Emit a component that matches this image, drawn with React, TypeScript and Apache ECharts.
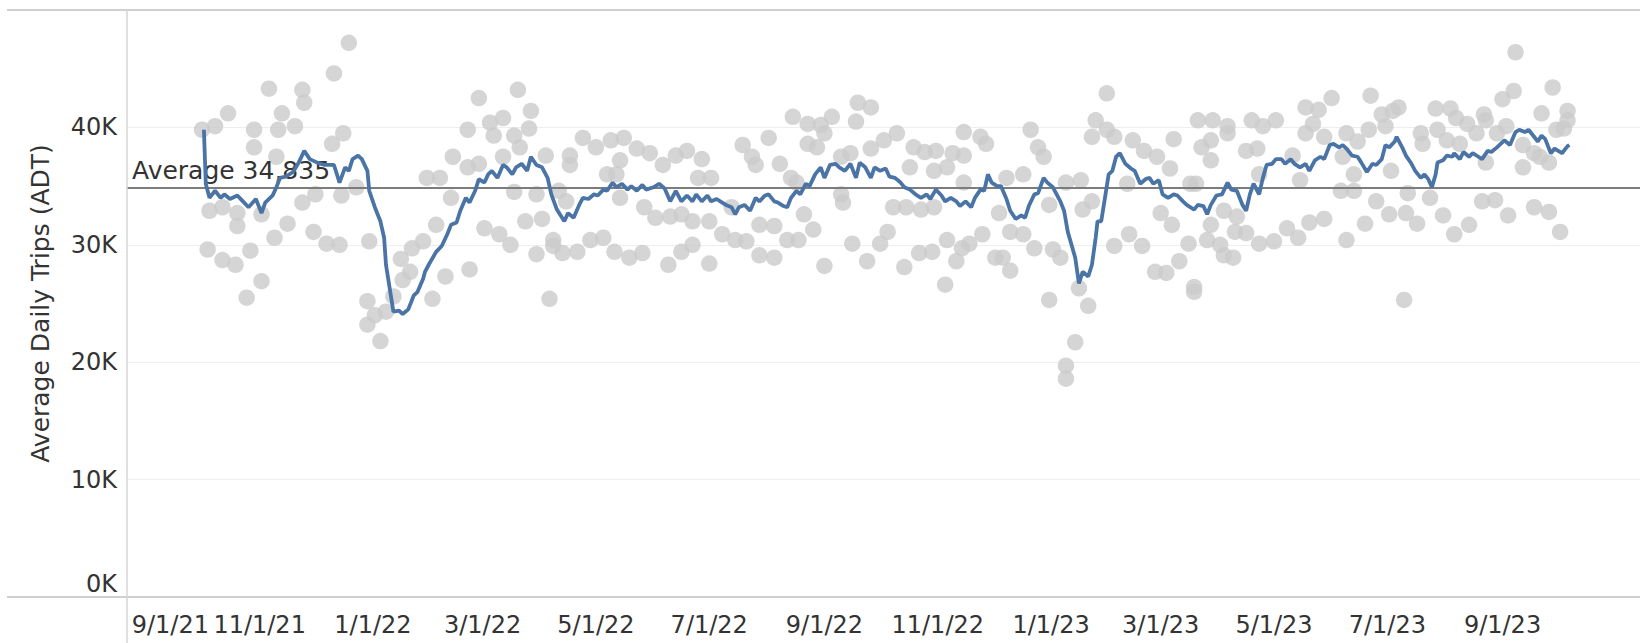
import React, { useEffect, useRef } from "react";
import * as echarts from "echarts";

// ---------- data ----------
// All points are [days since 2021-10-01, average daily trips]
const BASE_DATE = "2021-10-01";
const DAY_MS = 86400000;

const xTickDates = [
  "2021-09-01", "2021-11-01", "2022-01-01", "2022-03-01", "2022-05-01", "2022-07-01",
  "2022-09-01", "2022-11-01", "2023-01-01", "2023-03-01", "2023-05-01", "2023-07-01", "2023-09-01",
];
const yMax = 50000;
const yStep = 10000;
const averageValue = 34835;

// daily ADT (grey dots)
const daily2021: [number, number][] = [
  [0, 39800], [3, 29600], [4, 32900], [7, 40100], [11, 33200], [11, 28700], [14, 41200], [18, 28300],
  [19, 32700], [19, 31600], [24, 25500], [26, 29500], [28, 39800], [28, 38300], [32, 32600], [32, 26900],
  [36, 43300], [39, 30600], [40, 37500], [41, 39800], [43, 41200], [46, 31800], [50, 40100], [54, 43200],
  [54, 33600], [55, 42100], [60, 31100], [61, 34300], [67, 30100], [70, 38600], [71, 44600], [74, 30000],
  [75, 34200], [76, 39500], [79, 47200], [83, 34900], [89, 25200], [89, 23200], [90, 30300], [93, 24000],
  [96, 21800], [99, 24300],
];
const daily2022a: [number, number][] = [
  [103, 25600], [107, 28800], [108, 27000], [112, 27700], [113, 29700], [119, 30300], [121, 35700],
  [124, 25400], [126, 31700], [128, 35700], [131, 27300], [134, 34000], [135, 37500], [143, 39800],
  [143, 36600], [144, 27900], [149, 42500], [149, 36900], [152, 31400], [155, 40400], [157, 39300],
  [160, 30900], [162, 40800], [162, 37500], [166, 30000], [168, 39300], [168, 34500], [170, 43200],
  [171, 38300], [174, 32000], [176, 39900], [177, 41400], [180, 34300], [180, 29200], [183, 32200],
  [185, 37600], [187, 25400], [189, 30400], [189, 29900], [192, 34600], [194, 29300], [196, 33700],
  [198, 37600], [198, 36800], [202, 29400], [205, 39100], [209, 30400],
];
const daily2022b: [number, number][] = [
  [212, 38300], [216, 30600], [218, 36000], [220, 38900], [222, 29400], [223, 36000], [225, 37200],
  [225, 34000], [227, 39100], [230, 28900], [234, 38200], [237, 29300], [238, 33200], [241, 37800],
  [244, 32300], [248, 36800], [251, 28300], [252, 32400], [255, 37600], [258, 32600], [258, 29400],
  [261, 38000], [264, 32000], [264, 30000], [267, 35700], [269, 37300], [273, 32000], [273, 28400],
  [274, 35700], [280, 30900], [285, 33200], [287, 30400], [291, 38500], [293, 30300], [296, 37500],
  [298, 36800], [300, 31700], [300, 29100], [305, 39100], [308, 31600], [308, 28900], [311, 36900],
  [315, 30400], [317, 35700], [318, 40900], [320, 35300], [321, 30400], [324, 32600], [326, 40300],
  [326, 38600], [329, 31300], [331, 38300], [333, 40200], [335, 39500], [335, 28200], [339, 40900],
  [344, 37500], [344, 34300], [345, 33600], [349, 37800], [350, 30100], [352, 40500], [353, 42100],
  [358, 28600], [360, 41700], [360, 38200], [365, 30100], [367, 38900], [369, 31100],
];
const daily2023a: [number, number][] = [
  [372, 33200], [374, 39500], [378, 28100], [379, 33200], [381, 36600], [383, 38300], [386, 29300],
  [387, 33000], [389, 37900], [393, 29400], [394, 36300], [394, 33200], [395, 38000], [400, 26600],
  [401, 36600], [401, 30400], [404, 37800], [406, 28600], [409, 29700], [410, 39600], [410, 37600],
  [410, 35300], [413, 30100], [419, 39200], [420, 30900], [422, 38600], [427, 28900], [429, 32700],
  [431, 28900], [433, 35700], [435, 31100], [435, 27800], [442, 36000], [442, 30900], [446, 39800],
  [448, 29700], [450, 38300], [453, 37500], [456, 33400], [456, 25300], [458, 29600], [462, 28900],
  [465, 35300], [465, 19700], [465, 18600], [470, 21700], [472, 26300], [473, 35500], [474, 33000],
  [477, 24800], [479, 39200], [479, 33700], [481, 40600], [487, 42900], [487, 39800], [491, 39200],
  [491, 29900],
];
const daily2023b: [number, number][] = [
  [498, 35200], [499, 30900], [501, 38900], [506, 29900], [507, 38000], [513, 27700], [514, 37500],
  [516, 32700], [519, 27600], [521, 36500], [522, 31700], [523, 39000], [526, 28600], [531, 30100],
  [532, 35200], [534, 26400], [534, 26000], [535, 35200], [536, 40600], [538, 38300], [541, 30400],
  [543, 38900], [543, 37200], [543, 31700], [544, 40600], [548, 30000], [550, 32900], [550, 29100],
  [552, 40100], [552, 39500], [555, 28900], [556, 31100], [557, 32400], [562, 38000], [562, 31000],
  [565, 40600], [568, 38200], [569, 36000], [569, 30100], [571, 40100], [577, 30300], [578, 40600],
  [584, 31400], [587, 37600], [590, 30600], [591, 35500], [594, 41700], [594, 39500], [596, 31900],
  [598, 40300], [601, 41500], [604, 39200], [604, 32200], [608, 42500], [613, 34600], [614, 37500],
  [616, 30400],
];
const daily2023c: [number, number][] = [
  [616, 39500], [620, 36000], [620, 34600], [622, 38800], [626, 31800], [628, 39800], [629, 42700],
  [632, 33700], [635, 41100], [637, 40100], [639, 32600], [640, 36300], [641, 41400], [644, 41700],
  [647, 25300], [648, 32700], [649, 34400], [654, 31800], [656, 39500], [657, 38600], [661, 34000],
  [664, 41600], [665, 39800], [668, 32500], [670, 38900], [672, 41600], [674, 30900], [675, 40800],
  [677, 38600], [681, 40300], [682, 31700], [686, 39500], [689, 33700], [690, 41100], [691, 40600],
  [691, 37000], [696, 33800], [697, 39500], [700, 42400], [702, 40100], [703, 32500], [706, 43100],
  [707, 46400], [711, 38500], [711, 36600], [717, 37800], [717, 33200], [720, 37500], [721, 41200],
  [725, 37000], [725, 32800], [727, 43400], [729, 39800], [731, 31100], [733, 39900], [735, 41400],
  [735, 40600],
];

// rolling average (blue line)
const trend2021: [number, number][] = [
  [1, 39800], [2, 35200], [4, 34000], [7, 34600], [10, 34000], [12, 34300], [15, 33900], [19, 34200],
  [22, 33700], [25, 33200], [29, 33900], [32, 32700], [34, 33600], [38, 34200], [40, 34900], [42, 35700],
  [45, 35800], [49, 36200], [52, 37000], [55, 38000], [58, 37300], [62, 37000], [66, 36800], [71, 36800],
  [74, 35300], [77, 36600], [79, 36300], [81, 37300], [84, 37600], [86, 37300], [89, 36300], [90, 34600],
  [93, 33200], [96, 32000], [98, 30600], [99, 28300],
];
const trend2022a: [number, number][] = [
  [101, 26300], [103, 24300], [106, 24400], [108, 24100], [111, 24500], [114, 25700], [116, 26000],
  [119, 27100], [120, 27700], [122, 28300], [126, 29400], [129, 29900], [132, 30900], [134, 31700],
  [137, 31900], [139, 32900], [142, 34000], [144, 33600], [147, 34600], [149, 35600], [152, 35300],
  [154, 36000], [156, 36300], [159, 35700], [162, 36800], [164, 36600], [167, 36000], [169, 36600],
  [172, 36900], [175, 36300], [177, 37500], [180, 36800], [183, 36600], [186, 35700], [188, 34300],
  [191, 33000], [195, 32000], [197, 32700], [200, 32300], [203, 33400], [205, 34000], [208, 33900],
  [211, 34300], [213, 34200], [216, 34700], [218, 34600], [221, 35300], [223, 34900], [226, 35200],
  [229, 34700], [231, 35000], [234, 34600], [237, 35100], [239, 34700],
];
const trend2022b: [number, number][] = [
  [243, 34900], [246, 35200], [249, 34800], [252, 33700], [255, 34600], [258, 33700], [261, 34200],
  [264, 33700], [266, 34300], [269, 33700], [272, 34200], [274, 33700], [277, 33900], [280, 33600],
  [282, 33400], [285, 33200], [287, 32600], [289, 33200], [292, 33400], [295, 32900], [298, 34000],
  [300, 33700], [303, 34200], [305, 34300], [308, 33700], [310, 33600], [313, 33300], [315, 33200],
  [317, 34000], [320, 34600], [322, 34300], [325, 35200], [327, 35000], [330, 36000], [333, 36600],
  [335, 35700], [338, 36800], [341, 36900], [343, 36600], [346, 36300], [349, 36900], [352, 35700],
  [354, 37000], [357, 36600], [360, 35700], [362, 36600], [365, 36300],
];
const trend2023a: [number, number][] = [
  [368, 36500], [370, 35800], [373, 35700], [376, 35300], [378, 34900], [381, 34700], [384, 34300],
  [387, 34000], [390, 34300], [392, 33900], [395, 34700], [398, 34200], [400, 33700], [403, 34000],
  [406, 33700], [408, 33300], [411, 33700], [414, 33200], [416, 34000], [419, 34700], [421, 34600],
  [423, 36000], [425, 35300], [428, 35000], [430, 35000], [433, 33900], [435, 32900], [438, 32200],
  [441, 32500], [443, 32300], [445, 33300], [448, 34300], [450, 34400], [453, 35700], [455, 35300],
  [458, 34900], [462, 33700], [464, 32900], [466, 31100], [468, 30000], [470, 28900], [472, 26700],
  [474, 27700], [477, 27300], [479, 28300], [481, 30600], [482, 32000], [484, 32000], [486, 34000],
  [488, 36000], [490, 36300], [492, 37500], [494, 37800],
];
const trend2023b: [number, number][] = [
  [497, 36900], [500, 36500], [502, 36300], [505, 35200], [508, 35600], [510, 35700], [512, 35200],
  [515, 35500], [517, 34300], [520, 34000], [523, 34300], [525, 34200], [528, 33700], [530, 33400],
  [534, 33000], [536, 33400], [539, 33300], [541, 32600], [543, 33400], [546, 34200], [549, 34300],
  [552, 35300], [554, 34700], [557, 34600], [560, 33400], [562, 32900], [564, 34300], [566, 35200],
  [569, 34300], [571, 35700], [573, 36800], [576, 36900], [578, 37300], [581, 37300], [583, 36900],
  [586, 37300], [588, 36900], [591, 36600], [594, 36900], [596, 36300], [599, 37200], [602, 37500],
  [604, 37300], [607, 38500], [609, 38600], [612, 38300],
];
const trend2023c: [number, number][] = [
  [614, 38500], [616, 38200], [619, 37600], [622, 37500], [624, 37000], [627, 36200], [630, 36900],
  [632, 36800], [635, 37300], [637, 38500], [639, 38300], [642, 38800], [643, 39200], [646, 38300],
  [648, 37600], [651, 36900], [653, 36300], [656, 35700], [658, 36000], [660, 35600], [662, 34900],
  [664, 36000], [665, 37000], [668, 37200], [670, 37600], [673, 37500], [674, 37800], [677, 37300],
  [679, 37900], [682, 37500], [684, 37800], [687, 37500], [689, 37300], [692, 38000], [694, 37900],
  [697, 38300], [699, 38600], [701, 38900], [704, 38500], [707, 39600], [709, 39800], [712, 39600],
  [714, 39800], [717, 39200], [719, 38800], [721, 39300], [723, 39000], [726, 37800], [728, 38200],
  [730, 38000], [732, 37800], [735, 38400], [736, 38500],
];

// ---------- chart ----------
const baseTs = Date.parse(BASE_DATE);
const toPoint = ([d, v]: [number, number]) => [baseTs + d * DAY_MS, v];

const dailyPoints = [
  ...daily2021, ...daily2022a, ...daily2022b, ...daily2023a, ...daily2023b, ...daily2023c,
].map(toPoint);
const trendPoints = [
  ...trend2021, ...trend2022a, ...trend2022b, ...trend2023a, ...trend2023b, ...trend2023c,
].map(toPoint);
const tickTs = xTickDates.map((s) => Date.parse(s));

const X_MIN = baseTs - 40.4 * DAY_MS;
const X_MAX = baseTs + 774 * DAY_MS;

const FONT = "DejaVu Sans";
const TEXT = "#333333";

function fmtDate(v: number) {
  const d = new Date(v);
  return `${d.getUTCMonth() + 1}/${d.getUTCDate()}/${String(d.getUTCFullYear()).slice(2)}`;
}

export default function App() {
  const ref = useRef<HTMLDivElement>(null);
  useEffect(() => {
    if (!ref.current) return;
    const chart = echarts.init(ref.current, null, { renderer: "svg" });
    const option: any = {
      animation: false,
      backgroundColor: "#ffffff",
      textStyle: { fontFamily: FONT },
      grid: { left: 127, right: 0, top: 10, bottom: 46 },
      xAxis: {
        type: "value",
        min: X_MIN,
        max: X_MAX,
        axisLine: { show: false },
        axisTick: { show: false },
        splitLine: { show: false },
        axisLabel: {
          customValues: tickTs,
          fontFamily: FONT,
          fontSize: 24,
          color: TEXT,
          margin: 16,
          hideOverlap: false,
          formatter: (v: number) => {
            const s = fmtDate(v);
            return v === tickTs[0] ? `{first|${s}}` : s;
          },
          rich: {
            first: { padding: [0, 0, 0, 48], fontFamily: FONT, fontSize: 24, color: TEXT },
          },
        },
      },
      yAxis: {
        type: "value",
        min: 0,
        max: yMax,
        interval: yStep,
        name: "Average Daily Trips (ADT)",
        nameLocation: "middle",
        nameGap: 74,
        nameTextStyle: { fontFamily: FONT, fontSize: 25, color: TEXT },
        axisLine: { show: false },
        axisTick: { show: false },
        splitLine: { lineStyle: { color: "#eeeeee", width: 1 } },
        axisLabel: {
          fontFamily: FONT,
          fontSize: 24,
          color: TEXT,
          margin: 10,
          formatter: (v: number) => {
            if (v === yMax) return "";
            if (v === 0) return "{zero|0K}";
            return `${v / 1000}K`;
          },
          rich: {
            zero: { padding: [0, 0, 26, 0], fontFamily: FONT, fontSize: 24, color: TEXT },
          },
        },
      },
      series: [
        {
          type: "scatter",
          data: dailyPoints,
          symbol: "circle",
          symbolSize: 16.5,
          itemStyle: { color: "#cacaca" },
          z: 2,
          silent: true,
          markLine: {
            silent: true,
            symbol: "none",
            data: [{ yAxis: averageValue }],
            lineStyle: { color: "#7c7c7c", width: 2, type: "solid" },
            label: {
              show: true,
              position: "insideStartTop",
              distance: 5,
              formatter: `Average ${averageValue.toLocaleString("en-US")}`,
              fontFamily: FONT,
              fontSize: 25,
              color: TEXT,
            },
            z: 3,
          },
        },
        {
          type: "line",
          data: trendPoints,
          showSymbol: false,
          symbol: "none",
          smooth: false,
          lineStyle: { color: "#4a74a5", width: 3.8 },
          z: 4,
          silent: true,
        },
      ],
      graphic: [
        { type: "line", shape: { x1: 7, y1: 10, x2: 1640, y2: 10 }, style: { stroke: "#cfcfcf", lineWidth: 2 }, z: 10 },
        { type: "line", shape: { x1: 7, y1: 597, x2: 1640, y2: 597 }, style: { stroke: "#cfcfcf", lineWidth: 2 }, z: 10 },
        { type: "line", shape: { x1: 127, y1: 10, x2: 127, y2: 643 }, style: { stroke: "#d6d6d6", lineWidth: 1.5 }, z: 10 },
      ],
    };
    chart.setOption(option);
    return () => chart.dispose();
  }, []);
  return (
    <div
      ref={ref}
      style={{ position: "fixed", left: 0, top: 0, width: 1640, height: 643, background: "#ffffff" }}
    />
  );
}
